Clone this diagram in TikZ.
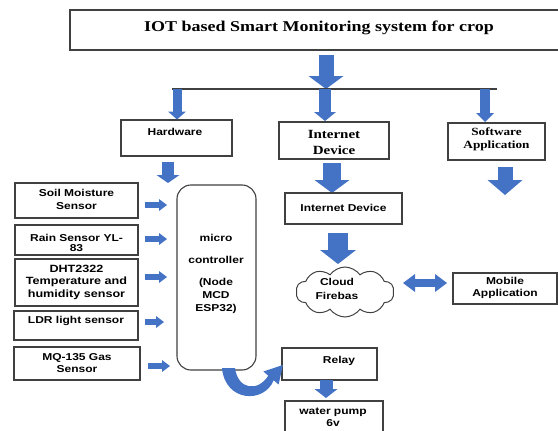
\documentclass[tikz,border=0pt]{standalone}
\usepackage{fontspec}
\newfontfamily\sansb[FakeStretch=1.2]{Liberation Sans}
\newfontfamily\serifb[FakeStretch=1.2]{Liberation Serif}
\usetikzlibrary{arrows.meta,shapes.symbols}
\definecolor{ablue}{HTML}{4472C4}
\definecolor{bgray}{HTML}{404040}
\tikzset{
  box/.style={draw=bgray, line width=1.1pt, fill=white, inner sep=0pt},
  st/.style={font=\sansb\bfseries\fontsize{10}{12.5}\selectfont, align=center, inner sep=0pt, text=black},
  barrow/.style n args={3}{draw=ablue, line width=#1, -{Triangle[width=#2,length=#3,line width=0pt]}},
}
\begin{document}
\begin{tikzpicture}[x=1pt,y=-1pt]
\useasboundingbox (0,0) rectangle (558,431);
\clip (0,0) rectangle (558,431);
% title
\node[box, minimum width=492pt, minimum height=40pt] (title) at (316,30) {};
\node[font=\serifb\bfseries\fontsize{15}{18}\selectfont, inner sep=0pt] (titletxt) at (319,28) {IOT based Smart Monitoring system for crop};
% main arrow and distribution line
\coordinate (hub) at (326,89);
\coordinate (lineL) at (172,89);
\coordinate (lineR) at (497,89);
\draw[barrow={15pt}{35pt}{13pt}] (326,55) -- (hub);
\draw[bgray, line width=1.2pt] (lineL) -- (lineR);
% second level boxes
\node[box, minimum width=111pt, minimum height=36pt] (hw) at (176.5,138) {};
\node[st] at (175,132) {Hardware};
\node[box, minimum width=110pt, minimum height=37pt] (inet) at (334,140.5) {};
\node[font=\serifb\bfseries\fontsize{12.5}{16}\selectfont, align=center, inner sep=0pt] at (334,142) {Internet\\Device};
\node[box, minimum width=97pt, minimum height=37pt] (soft) at (496.5,141.5) {};
\node[font=\serifb\bfseries\fontsize{11}{13}\selectfont, align=center, inner sep=0pt] at (496.5,139.5) {Software\\Application};
\draw[barrow={9pt}{18pt}{8pt}] (177,89) -- (177,119.5);
\draw[barrow={12pt}{22pt}{9pt}] (325,89) -- (325,121);
\draw[barrow={10pt}{18pt}{9pt}] (485,89) -- (485,122);
% arrows below second level
\draw[barrow={12pt}{23pt}{8pt}] (168,162) -- (168,183);
\draw[barrow={18pt}{35pt}{13pt}] (332,163) -- (332,193);
\draw[barrow={15pt}{35pt}{15pt}] (505,167) -- (505,195);
% sensors
\node[box, minimum width=123pt, minimum height=35pt] (soil) at (76.5,200.5) {};
\node[st] at (76.5,199.5) {Soil Moisture\\Sensor};
\node[box, minimum width=123pt, minimum height=30pt] (rain) at (76.5,240) {};
\begin{scope}
\clip (15,225) rectangle (138,253);
\node[st, font=\sansb\bfseries\fontsize{10}{10.5}\selectfont] at (76.5,243) {Rain Sensor YL-\\83};
\end{scope}
\node[box, minimum width=123pt, minimum height=47pt] (dht) at (76.5,282.5) {};
\node[st, font=\sansb\bfseries\fontsize{10.5}{12.5}\selectfont] at (76.5,282) {DHT2322\\Temperature and\\humidity sensor};
\node[box, minimum width=124pt, minimum height=29pt] (ldr) at (76,325.5) {};
\node[st] at (76,321) {LDR light sensor};
\node[box, minimum width=126pt, minimum height=33pt] (mq) at (77,363.5) {};
\node[st] at (77,363) {MQ-135 Gas\\Sensor};
% micro controller
\node[box, rounded corners=14pt, minimum width=79pt, minimum height=185pt] (mc) at (216.5,277.5) {};
\node[st, font=\sansb\bfseries\fontsize{10}{13}\selectfont] at (216,273.5) {micro\\[9pt]controller\\[9pt](Node\\MCD\\ESP32)};
\draw[barrow={6pt}{12pt}{8pt}] (145,205) -- (167,205);
\draw[barrow={6pt}{12pt}{8pt}] (145,239) -- (167,239);
\draw[barrow={6pt}{12pt}{8pt}] (145,277) -- (167,277);
\draw[barrow={6pt}{12pt}{8pt}] (145,322) -- (164,322);
\draw[barrow={6pt}{12pt}{8pt}] (148,366) -- (170,366);
% internet device chain
\node[box, minimum width=117pt, minimum height=31pt] (inet2) at (343.5,208.5) {};
\node[st] at (343.5,208) {Internet Device};
\draw[barrow={20pt}{36pt}{14pt}] (338,233) -- (338,264);
\node[cloud, draw=bgray, line width=1pt, cloud puffs=10, cloud puff arc=110, aspect=2, minimum width=98pt, minimum height=50pt, inner sep=0pt] (cloud) at (345,292) {};
\node[st, font=\sansb\bfseries\fontsize{10}{14}\selectfont] at (337,289) {Cloud\\Firebas};
\node[box, minimum width=104pt, minimum height=31pt] (mob) at (505,288.5) {};
\node[st] at (505,288) {Mobile\\Application};
\draw[draw=ablue, line width=8pt, {Triangle[width=18pt,length=12pt,line width=0pt]}-{Triangle[width=18pt,length=12pt,line width=0pt]}] (403,283) -- (447,283);
% relay and pump
\node[box, minimum width=95pt, minimum height=32pt] (relay) at (329.5,364) {};
\node[st] at (339,361) {Relay};
\fill[ablue] (222,368) .. controls (225,402) and (264,404) .. (273.7,380.3) -- (278.6,384.5) -- (283,365) -- (263.4,371.5) -- (268.3,375.7) .. controls (258,392) and (238,390) .. (235,368) -- cycle;
\draw[barrow={13pt}{23pt}{9pt}] (326,380) -- (326,398);
\node[box, minimum width=98pt, minimum height=40pt] (pump) at (334,421) {};
\node[st] at (333,417.5) {water pump\\6v};
\end{tikzpicture}
\end{document}
